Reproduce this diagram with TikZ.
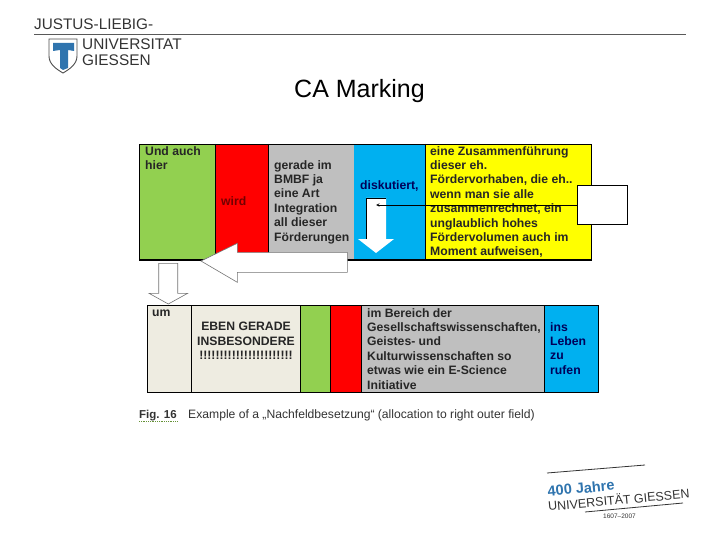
\documentclass[tikz,border=0pt]{standalone}
\usepackage{fontspec}
\setmainfont{Liberation Sans}
\definecolor{cellgreen}{HTML}{92D050}
\definecolor{cellred}{HTML}{FF0000}
\definecolor{cellgray}{HTML}{BFBFBF}
\definecolor{cellblue}{HTML}{00B0F0}
\definecolor{cellyellow}{HTML}{FFFF00}
\definecolor{cellbeige}{HTML}{EEECE1}
\definecolor{logoblue}{HTML}{2F74AE}
\tikzset{
  celltext/.style={anchor=north west,inner sep=0pt,align=left,text=black!85,font=\fontsize{12.2}{14.4}\selectfont\bfseries},
  logotext/.style={anchor=base west,inner sep=0pt,text=black!80},
  blockarrow/.style={fill=white,draw=black!55,line width=0.6pt},
}
\begin{document}
\begin{tikzpicture}[x=1pt,y=-1pt]
\useasboundingbox (0,0) rectangle (720,540);
% header
\node[logotext,font=\fontsize{15.3}{16}\selectfont] (justus) at (34,29.5) {JUSTUS-LIEBIG-};
\draw[black!65,line width=0.9pt] (34,34)--(686,34);
\node[logotext,font=\fontsize{15.4}{17}\selectfont] (univ) at (82,49.5) {UNIVERSITAT};
\node[logotext,font=\fontsize{15.4}{17}\selectfont] (giessen) at (82,65.5) {GIESSEN};
\draw[black!70,fill=white,line width=0.9pt] (49,39)--(77,39)--(77,56) .. controls (77,64) and (70,69) .. (63,73) .. controls (56,69) and (49,64) .. (49,56)--cycle;
\fill[logoblue] (53,43)--(74,43)--(74,51)--(68,50)--(68,68)--(63,70)--(60,68)--(60,50)--(53,51)--cycle;
\node[anchor=base,inner sep=0pt,font=\fontsize{25}{26}\selectfont] (title) at (359.5,98) {CA Marking};
% upper row
\fill[cellgreen] (139,144) rectangle (215.5,260);
\fill[cellred] (215.5,144) rectangle (268.5,260);
\fill[cellgray] (268.5,144) rectangle (354,260);
\fill[cellblue] (354,144) rectangle (425,260);
\fill[cellyellow] (425,144) rectangle (591,260);
\draw[line width=0.7pt] (139,144) rectangle (591,260);
\draw[line width=1.2pt] (139,260)--(591,260);
\draw[line width=0.6pt] (215.5,144)--(215.5,260) (268.5,144)--(268.5,260) (425,144)--(425,260);
\node[celltext] (undauch) at (145,146) {Und auch\\hier};
\node[celltext,text=red!45!black] (wird) at (221,196) {wird};
\node[celltext] (gerade) at (274,160) {gerade im\\BMBF ja\\eine Art\\Integration\\all dieser\\Förderungen};
\node[celltext,text=blue!35!black] (diskutiert) at (360,180) {diskutiert,};
\node[celltext] (zusammen) at (430,146) {eine Zusammenführung\\dieser eh.\\Fördervorhaben, die eh..\\wenn man sie alle\\zusammenrechnet, ein\\unglaublich hohes\\Fördervolumen auch im\\Moment aufweisen,};
% lower row
\fill[cellbeige] (147,305.5) rectangle (300,392.5);
\fill[cellgreen] (300,305.5) rectangle (330.5,392.5);
\fill[cellred] (330.5,305.5) rectangle (361,392.5);
\fill[cellgray] (361,305.5) rectangle (544.5,392.5);
\fill[cellblue] (544.5,305.5) rectangle (598,392.5);
\draw[line width=0.7pt] (147,305.5) rectangle (598,392.5);
\draw[line width=1.2pt] (147,392.5)--(598,392.5);
\draw[line width=0.6pt] (191,305.5)--(191,392.5) (300,305.5)--(300,392.5) (330.5,305.5)--(330.5,392.5) (361,305.5)--(361,392.5) (544.5,305.5)--(544.5,392.5);
\node[celltext] (um) at (152,310) {um};
\node[celltext,align=center,anchor=north] (eben) at (246,322) {EBEN GERADE\\INSBESONDERE\\!!!!!!!!!!!!!!!!!!!!!!!};
\node[celltext] (bereich) at (367,308) {im Bereich der\\Gesellschaftswissenschaften,\\Geistes- und\\Kulturwissenschaften so\\etwas wie ein E-Science\\Initiative};
\node[celltext,text=blue!35!black] (leben) at (550,322) {ins\\Leben\\zu\\rufen};
% arrows
\fill[white] (366,198)--(386,198)--(386,239)--(394,239)--(376,253)--(358,239)--(366,239)--cycle;
\draw[line width=0.7pt] (386,198)--(366,198)--(366,239);
\draw[blockarrow] (347.3,252.3)--(237.3,252.3)--(237.3,243.3)--(201,261)--(237.3,282.3)--(237.3,272.3)--(347.3,272.3)--cycle;
\draw[blockarrow] (158.7,263.3)--(177.7,263.3)--(177.7,293.3)--(187.7,293.3)--(168.3,304)--(149,293.3)--(158.7,293.3)--cycle;
% empty box
\node[draw,fill=white,line width=0.6pt,minimum width=50pt,minimum height=39pt,inner sep=0pt] (emptybox) at (602,205) {};
\coordinate (arrowend) at (376,205);
\draw[-stealth,line width=0.6pt] (emptybox.west)--(arrowend);
% caption
\node[logotext,font=\fontsize{11.5}{12}\selectfont\bfseries] (fig) at (139,418) {Fig. 16};
\draw[cellgreen!70!black,densely dotted,line width=0.8pt] (139,421)--(178,421);
\node[logotext,font=\fontsize{12.15}{13}\selectfont] (caption) at (188,418) {Example of a „Nachfeldbesetzung“ (allocation to right outer field)};
% anniversary logo
\draw[black!80,line width=0.8pt] (547,473)--(645,465);
\draw[black!80,line width=0.8pt] (585,512)--(683,503);
\node[logotext,rotate=5.5,text=logoblue,font=\fontsize{14.5}{16}\selectfont\bfseries] (jahre) at (548,496.5) {400 Jahre};
\node[logotext,rotate=5.2,font=\fontsize{12.5}{14}\selectfont] (giessenjahre) at (548.5,511) {UNIVERSITÄT GIESSEN};
\node[logotext,font=\fontsize{6.5}{7}\selectfont] (jahreszahl) at (603,518) {1607–2007};
\end{tikzpicture}
\end{document}
